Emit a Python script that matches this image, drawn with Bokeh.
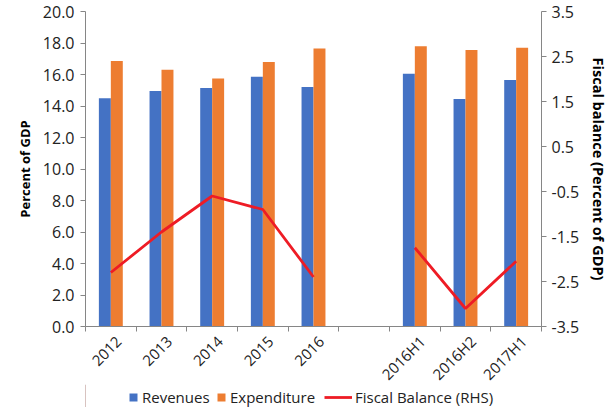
import numpy as np
from bokeh.plotting import figure
from bokeh.layouts import column
from bokeh.models import (Range1d, LinearAxis, FixedTicker, Legend, LegendItem,
                          PrintfTickFormatter)
from bokeh.embed import file_html
from bokeh.resources import INLINE

categories = ["2012", "2013", "2014", "2015", "2016", "", "2016H1", "2016H2", "2017H1"]
revenues = [14.5, 14.95, 15.15, 15.85, 15.2, np.nan, 16.05, 14.45, 15.65]
expenditure = [16.85, 16.3, 15.75, 16.8, 17.65, np.nan, 17.8, 17.55, 17.7]
fiscal_balance = [-2.3, -1.4, -0.6, -0.9, -2.4, np.nan, -1.75, -3.1, -2.05]

left_ticks = [0, 2, 4, 6, 8, 10, 12, 14, 16, 18, 20]
right_ticks = [-3.5, -2.5, -1.5, -0.5, 0.5, 1.5, 2.5, 3.5]
series_names = ["Revenues", "Expenditure", "Fiscal Balance (RHS)"]

FONT = "Open Sans"
BLUE = "#4472C4"
ORANGE = "#ED7D31"
RED = "#EE1C25"
GRAY = "#868686"
TXT = "#222222"

n = len(categories)
centers = [i + 0.5 for i in range(n)]
bw = 0.236
label_shift = 0.15

W = 611
H_MAIN = 393
H_LEG = 23
OVERLAP = 9

p = figure(width=W, height=H_MAIN, output_backend="svg", toolbar_location=None,
           x_range=Range1d(0, n), y_range=Range1d(0, 20),
           min_border_left=85, min_border_right=68, min_border_top=11,
           min_border_bottom=66)
p.outline_line_color = None
p.grid.visible = False
p.background_fill_color = "white"
p.border_fill_color = "white"

p.extra_y_ranges = {"fb": Range1d(-3.5, 3.5)}

p.vbar(x=[c - bw / 2 for c in centers], top=revenues, width=bw,
       fill_color=BLUE, line_color=None)
p.vbar(x=[c + bw / 2 for c in centers], top=expenditure, width=bw,
       fill_color=ORANGE, line_color=None)
p.line(x=centers, y=fiscal_balance, line_color=RED, line_width=2.8,
       y_range_name="fb")

# x axis: labels near category centers, tick marks at category boundaries
label_pos = [c + label_shift for c in centers]
xa = p.xaxis[0]
xa.ticker = FixedTicker(ticks=label_pos, minor_ticks=list(range(n + 1)))
xa.major_label_overrides = {c: lab for c, lab in zip(label_pos, categories)}
xa.major_tick_line_color = None
xa.minor_tick_line_color = GRAY
xa.minor_tick_in = 0
xa.minor_tick_out = 5
xa.axis_line_color = GRAY
xa.major_label_orientation = np.pi / 4
xa.major_label_text_font = FONT
xa.major_label_text_font_size = "15px"
xa.major_label_text_color = TXT
xa.major_label_standoff = 6

ya = p.yaxis[0]
ya.ticker = FixedTicker(ticks=left_ticks)
ya.formatter = PrintfTickFormatter(format="%.1f")
ya.axis_line_color = GRAY
ya.major_tick_line_color = GRAY
ya.major_tick_in = 0
ya.major_tick_out = 5
ya.minor_tick_line_color = None
ya.major_label_text_font = FONT
ya.major_label_text_font_size = "16px"
ya.major_label_text_color = TXT
ya.major_label_standoff = 6
ya.axis_label = "Percent of GDP"
ya.axis_label_text_font = FONT
ya.axis_label_text_font_style = "bold"
ya.axis_label_text_font_size = "13px"
ya.axis_label_text_color = "#000000"
ya.axis_label_standoff = 6

ra = LinearAxis(y_range_name="fb", ticker=FixedTicker(ticks=right_ticks),
                formatter=PrintfTickFormatter(format="%.1f"))
ra.axis_line_color = GRAY
ra.major_tick_line_color = GRAY
ra.major_tick_in = 0
ra.major_tick_out = 5
ra.minor_tick_line_color = None
ra.major_label_text_font = FONT
ra.major_label_text_font_size = "16px"
ra.major_label_text_color = TXT
ra.major_label_standoff = 5
ra.axis_label = "Fiscal balance (Percent of GDP)"
ra.axis_label_text_font = FONT
ra.axis_label_text_font_style = "bold"
ra.axis_label_text_font_size = "14.5px"
ra.axis_label_text_color = "#000000"
ra.axis_label_standoff = 7
p.add_layout(ra, "right")

# legend strip (transparent, slightly overlapping the bottom of the chart)
lg = figure(width=W, height=H_LEG, output_backend="svg", toolbar_location=None,
            x_range=Range1d(0, 1), y_range=Range1d(0, 1),
            min_border=0, x_axis_type=None, y_axis_type=None)
lg.outline_line_color = None
lg.grid.visible = False
lg.border_fill_color = None
lg.background_fill_color = None
lg.styles = {"margin-top": f"-{OVERLAP}px"}
r_rev = lg.vbar(x=[-5], top=[1], width=0.1, fill_color=BLUE, line_color=None)
r_exp = lg.vbar(x=[-5], top=[1], width=0.1, fill_color=ORANGE, line_color=None)
r_fb = lg.line(x=[-5, -4], y=[0, 0], line_color=RED, line_width=2.8)

def mk_legend(label, rend, x, gw, standoff):
    return Legend(items=[LegendItem(label=label, renderers=[rend])],
                  location=(x, 0), orientation="horizontal",
                  border_line_color=None, background_fill_alpha=0,
                  label_text_font=FONT, label_text_font_size="15px",
                  label_text_color=TXT, glyph_width=gw, glyph_height=10,
                  label_standoff=standoff, padding=0, margin=0, spacing=0)

lg.add_layout(mk_legend(series_names[0], r_rev, 43, 10, 4))
lg.add_layout(mk_legend(series_names[1], r_exp, 131, 10, 4))
lg.add_layout(mk_legend(series_names[2], r_fb, 239, 28, 3))

layout = column(p, lg, spacing=0)
open("out.html", "w").write(file_html(layout, INLINE))
